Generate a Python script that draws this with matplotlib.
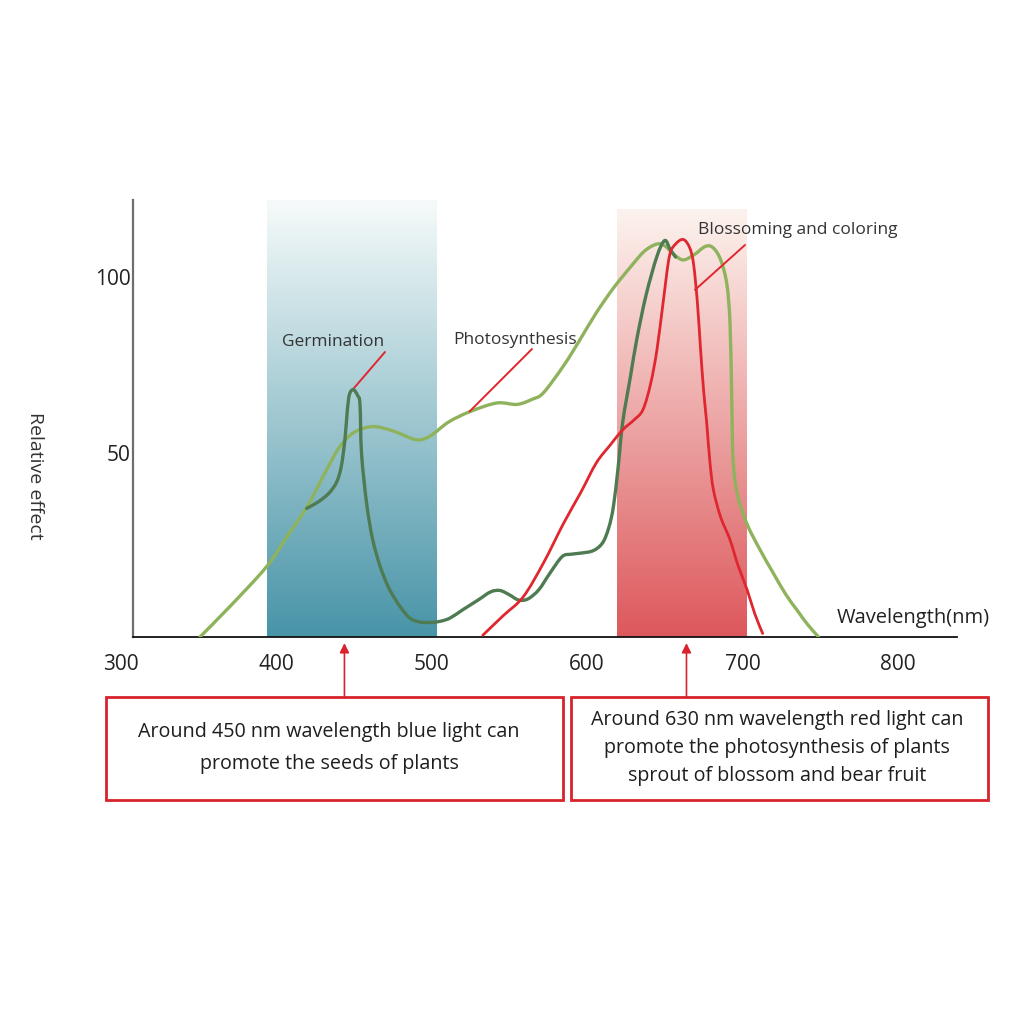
import numpy as np
import matplotlib
matplotlib.use("Agg")
import matplotlib.pyplot as plt
from matplotlib.patches import Rectangle, PathPatch
from matplotlib.path import Path
from matplotlib.transforms import blended_transform_factory

plt.rcParams['font.family'] = ['Open Sans', 'DejaVu Sans']

# photosynthesis curve (light green): wavelength nm, relative effect
photo_nm = [351, 370, 394, 407, 420, 432, 441, 450, 462, 475, 490, 499, 511, 525,
            542, 555, 565, 572, 585, 595, 606, 617, 628, 637, 645, 650, 656, 662,
            669, 676, 681, 686, 690, 692, 693, 694, 697, 703, 711, 720, 728, 735,
            742, 749]
photo_val = [0, 8.5, 20, 28.5, 37, 47, 54, 58, 59.7, 58.5, 56, 57, 61, 64,
             66.4, 66, 67.5, 69.3, 77, 84, 92, 99, 105, 109.5, 111.5, 111, 108.5, 107,
             108.5, 110.8, 110.5, 107, 100, 89, 70, 50, 40, 32, 25, 18, 12, 7.7,
             3.5, 0]

# germination curve (dark green)
germ_nm = [419.7, 427, 434, 439, 442, 444.3, 445.8, 447.2, 449.7, 452.5, 454, 455,
           458.3, 462, 467, 473, 480, 486, 492, 499, 506, 512, 520, 530, 538, 544,
           550, 556, 562, 569, 576, 584, 590, 596, 604, 610, 614, 617, 620, 623,
           628, 632, 638, 645, 650, 653.5, 657]
germ_val = [36.5, 38.3, 40.8, 44, 48.5, 56, 64, 68.8, 70.2, 68.5, 66, 52,
            37.8, 28, 20, 13.5, 8.5, 5.4, 4.3, 4.1, 4.5, 5.4, 7.7, 10.5, 12.8, 13.2,
            12, 10.5, 10.8, 13.4, 18, 22.8, 23.5, 23.8, 24.5, 26.7, 31, 37, 48, 61,
            74, 84.4, 97, 108, 112.5, 110, 107.8]

# blossoming and coloring curve (red)
bloom_nm = [533, 546, 559, 572, 585, 596, 606, 615, 623, 630, 636, 641, 645, 649,
            653, 657, 662, 666, 668.5, 671, 673, 675, 677, 679, 681.3, 686, 692,
            697, 703, 708, 713]
bloom_val = [0.5, 6, 11.4, 21, 32.3, 41, 49.4, 54.5, 58.8, 61.5, 64.5, 72, 81.5, 95,
             108, 111.5, 112.8, 110.5, 106, 95, 82, 70, 60.8, 50, 41.8, 34, 27.6,
             20.5, 13.4, 6.5, 1]

blue_band = (394, 503)
red_band = (619, 702)
x_ticks = [300, 400, 500, 600, 700, 800]
y_ticks = [50, 100]
arrow_nm = [444, 664]

W = 1010


def fx(px):
    return px / W


def fy(py):
    return 1 - py / W


def smooth_path(xs, ys):
    # Catmull-Rom through the read points, drawn as cubic Bezier segments
    pts = np.column_stack([xs, ys]).astype(float)
    verts = [pts[0]]
    codes = [Path.MOVETO]
    n = len(pts)
    for i in range(n - 1):
        p0 = pts[i - 1] if i > 0 else pts[i]
        p1 = pts[i]
        p2 = pts[i + 1]
        p3 = pts[i + 2] if i + 2 < n else pts[i + 1]
        verts += [p1 + (p2 - p0) / 6, p2 - (p3 - p1) / 6, p2]
        codes += [Path.CURVE4] * 3
    return Path(verts, codes)


fig = plt.figure(figsize=(10.1, 10.1), dpi=100)
ax = fig.add_axes([fx(133), fy(637), fx(957 - 133), (637 - 200) / W])


def band(x0, x1, top, bottom_rgb, top_rgb):
    t = np.linspace(0, 1, 256)[:, None, None]
    bot = np.array(bottom_rgb) / 255.0
    tc = np.array(top_rgb) / 255.0
    img = bot * (1 - t) + tc * t
    img = np.repeat(img, 2, axis=1)
    ax.imshow(img, origin='lower', extent=(x0, x1, 0, top), aspect='auto',
              interpolation='bicubic', zorder=0)


band(blue_band[0], blue_band[1], 124, (72, 148, 168), (246, 251, 250))
band(red_band[0], red_band[1], 121.3, (221, 88, 92), (252, 243, 238))

for xs, ys, col, lw, z in [(photo_nm, photo_val, '#8fb35c', 2.4, 3),
                           (germ_nm, germ_val, '#4e7b52', 2.4, 4),
                           (bloom_nm, bloom_val, '#e0262f', 2.0, 5)]:
    ax.add_patch(PathPatch(smooth_path(xs, ys), fill=False, edgecolor=col, lw=lw,
                           capstyle='round', joinstyle='round', zorder=z))

ax.set_xlim(308, 838)
ax.set_ylim(0, 124)

for s in ['top', 'right']:
    ax.spines[s].set_visible(False)
ax.spines['left'].set_color('#6e6e6e')
ax.spines['left'].set_linewidth(1.6)
ax.spines['bottom'].set_color('#111111')
ax.spines['bottom'].set_linewidth(1.3)
ax.set_xticks([])
ax.set_yticks([])

tr = blended_transform_factory(ax.transData, ax.transAxes)
for v in x_ticks:
    ax.text(v, -0.062, str(v), transform=tr, ha='center', va='center',
            fontsize=15, color='#222222', clip_on=False)
for v in y_ticks:
    ax.text(-0.003, v + 1.4, str(v), transform=ax.get_yaxis_transform(), ha='right',
            va='center', fontsize=15, color='#222222', clip_on=False)

fig.text(fx(35), fy(476), 'Relative effect', rotation=-90, ha='center', va='center',
         fontsize=14, color='#333333')
fig.text(fx(837), fy(618), 'Wavelength(nm)', ha='left', va='center',
         fontsize=14.5, color='#222222')

# curve labels with pointer lines
lab_kw = dict(fontsize=12.5, color='#333333')
line_kw = dict(arrowstyle='-', color='#e0262f', lw=1.4, shrinkA=0, shrinkB=0)
ax.annotate('Germination', xy=(fx(333), fy(342)), xycoords='figure fraction',
            ha='center', va='center', **lab_kw)
ax.annotate('', xy=(449.3, 70.2), xytext=(fx(385), fy(352)), textcoords='figure fraction',
            arrowprops=line_kw)
ax.annotate('Photosynthesis', xy=(fx(453), fy(340)), xycoords='figure fraction',
            ha='left', va='center', **lab_kw)
ax.annotate('', xy=(524.5, 64), xytext=(fx(532), fy(349)), textcoords='figure fraction',
            arrowprops=line_kw)
ax.annotate('Blossoming and coloring', xy=(fx(698), fy(230)), xycoords='figure fraction',
            ha='left', va='center', **lab_kw)
ax.annotate('', xy=(669.5, 98.5), xytext=(fx(745), fy(245)), textcoords='figure fraction',
            arrowprops=line_kw)

# boxes below the axis
box_kw = dict(fill=False, edgecolor='#d8232c', lw=2.0, transform=fig.transFigure)
fig.patches.append(Rectangle((fx(106), fy(800)), fx(563 - 106), (800 - 697) / W, **box_kw))
fig.patches.append(Rectangle((fx(571), fy(800)), fx(988 - 571), (800 - 697) / W, **box_kw))

for xnm in arrow_nm:
    ax.annotate('', xy=(xnm, -0.014), xycoords=tr, xytext=(xnm, -0.136), textcoords=tr,
                arrowprops=dict(arrowstyle='-|>', color='#d8232c', lw=1.2,
                                mutation_scale=14, shrinkA=0, shrinkB=0))

box_txt = dict(ha='center', va='center', fontsize=14.2, color='#1e1e1e')
fig.text(fx(329), fy(748), 'Around 450 nm wavelength blue light can\npromote the seeds of plants',
         linespacing=1.75, **box_txt)
fig.text(fx(777), fy(748), 'Around 630 nm wavelength red light can\n'
         'promote the photosynthesis of plants\nsprout of blossom and bear fruit',
         linespacing=1.55, **box_txt)

fig.savefig('out.png', dpi=100, facecolor='white')
